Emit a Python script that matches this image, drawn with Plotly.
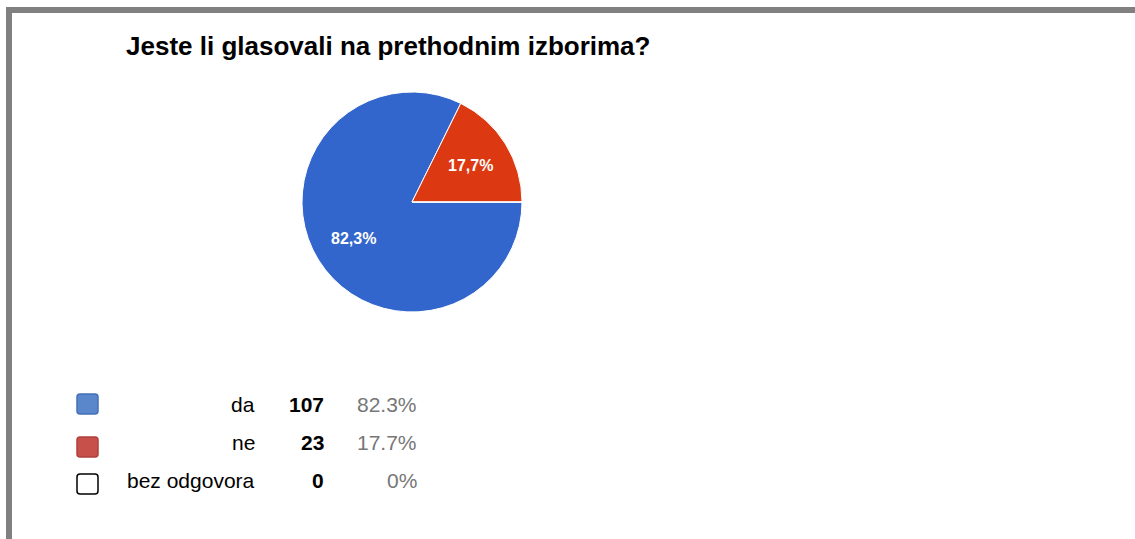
import math
import plotly.graph_objects as go

W, H = 1135, 539

title_text = "Jeste li glasovali na prethodnim izborima?"
categories = ["da", "ne", "bez odgovora"]
counts = [107, 23, 0]
slice_colors = ["#3366CC", "#DC3912", "#FFFFFF"]
swatch_fill = ["#5A86CB", "#C8504B", "#FFFFFF"]
swatch_line = ["#4670B5", "#B0403B", "#000000"]

total = sum(counts)
shares = [c / total for c in counts]
pct_labels = [("%.1f%%" % (s * 100)) if s > 0 else "0%" for s in shares]
pie_labels = [l.replace(".", ",") for l in pct_labels]

FONT = "Liberation Sans, Arial, sans-serif"

def px(x):
    return x / W

def py(y):
    return 1 - y / H

# pie geometry (pixels)
PX0, PX1, PY0, PY1 = 302, 522, 92, 312
CX, CY = (PX0 + PX1) / 2, (PY0 + PY1) / 2
R = (PX1 - PX0) / 2
START_DEG = 0  # first slice starts at 3 o'clock, pie drawn clockwise

fig = go.Figure()

fig.add_trace(go.Pie(
    labels=categories,
    values=counts,
    sort=False,
    direction="clockwise",
    rotation=90,
    marker=dict(colors=slice_colors, line=dict(color="white", width=1)),
    textinfo="none",
    domain=dict(x=[px(PX0), px(PX1)], y=[py(PY1), py(PY0)]),
    showlegend=False,
    hoverinfo="label+value+percent",
))

shapes = [
    dict(type="rect", xref="paper", yref="paper", x0=px(6), x1=px(1135), y0=py(13), y1=py(7),
         fillcolor="#808080", line=dict(width=0)),
    dict(type="rect", xref="paper", yref="paper", x0=px(6), x1=px(12), y0=py(539), y1=py(7),
         fillcolor="#808080", line=dict(width=0)),
]

annotations = [
    dict(text="<b>" + title_text + "</b>", x=px(124), y=py(46), xref="paper", yref="paper",
         xanchor="left", yanchor="middle", showarrow=False,
         font=dict(family=FONT, size=26, color="#000000")),
]

# slice labels placed at the mid-angle of each slice (clockwise from east)
acc = 0.0
for i, s in enumerate(shares):
    mid = acc + s / 2
    acc += s
    if s <= 0:
        continue
    ang = math.radians(START_DEG - mid * 360)
    lx = CX + 0.625 * R * math.cos(ang)
    ly = CY - 0.625 * R * math.sin(ang)
    annotations.append(dict(text="<b>" + pie_labels[i] + "</b>", x=px(lx), y=py(ly),
                            xref="paper", yref="paper",
                            xanchor="center", yanchor="middle", showarrow=False,
                            font=dict(family=FONT, size=16, color="white")))

row_y = [404, 442, 480]
sw_top = [394, 437, 474]
for i, cat in enumerate(categories):
    x0, x1 = 77, 98
    y0, y1 = sw_top[i], sw_top[i] + 20
    r = 3
    path = (f"M {px(x0 + r)},{py(y0)} L {px(x1 - r)},{py(y0)} Q {px(x1)},{py(y0)} {px(x1)},{py(y0 + r)} "
            f"L {px(x1)},{py(y1 - r)} Q {px(x1)},{py(y1)} {px(x1 - r)},{py(y1)} "
            f"L {px(x0 + r)},{py(y1)} Q {px(x0)},{py(y1)} {px(x0)},{py(y1 - r)} "
            f"L {px(x0)},{py(y0 + r)} Q {px(x0)},{py(y0)} {px(x0 + r)},{py(y0)} Z")
    shapes.append(dict(type="path", xref="paper", yref="paper", path=path,
                       fillcolor=swatch_fill[i], line=dict(color=swatch_line[i], width=1.5)))
    annotations.append(dict(text=cat, x=px(257), y=py(row_y[i]), xref="paper", yref="paper",
                            xanchor="right", yanchor="middle", showarrow=False,
                            font=dict(family=FONT, size=21, color="#000000")))
    annotations.append(dict(text="<b>%d</b>" % counts[i], x=px(326), y=py(row_y[i]), xref="paper", yref="paper",
                            xanchor="right", yanchor="middle", showarrow=False,
                            font=dict(family=FONT, size=21, color="#000000")))
    annotations.append(dict(text=pct_labels[i], x=px(419), y=py(row_y[i]), xref="paper", yref="paper",
                            xanchor="right", yanchor="middle", showarrow=False,
                            font=dict(family=FONT, size=21, color="#777777")))

fig.update_layout(
    width=W, height=H,
    margin=dict(l=0, r=0, t=0, b=0),
    paper_bgcolor="white",
    plot_bgcolor="white",
    shapes=shapes,
    annotations=annotations,
)

fig.write_html("out.html",
               config={"displayModeBar": False},
               post_script="document.body.style.margin='0';document.body.style.overflow='hidden';")
